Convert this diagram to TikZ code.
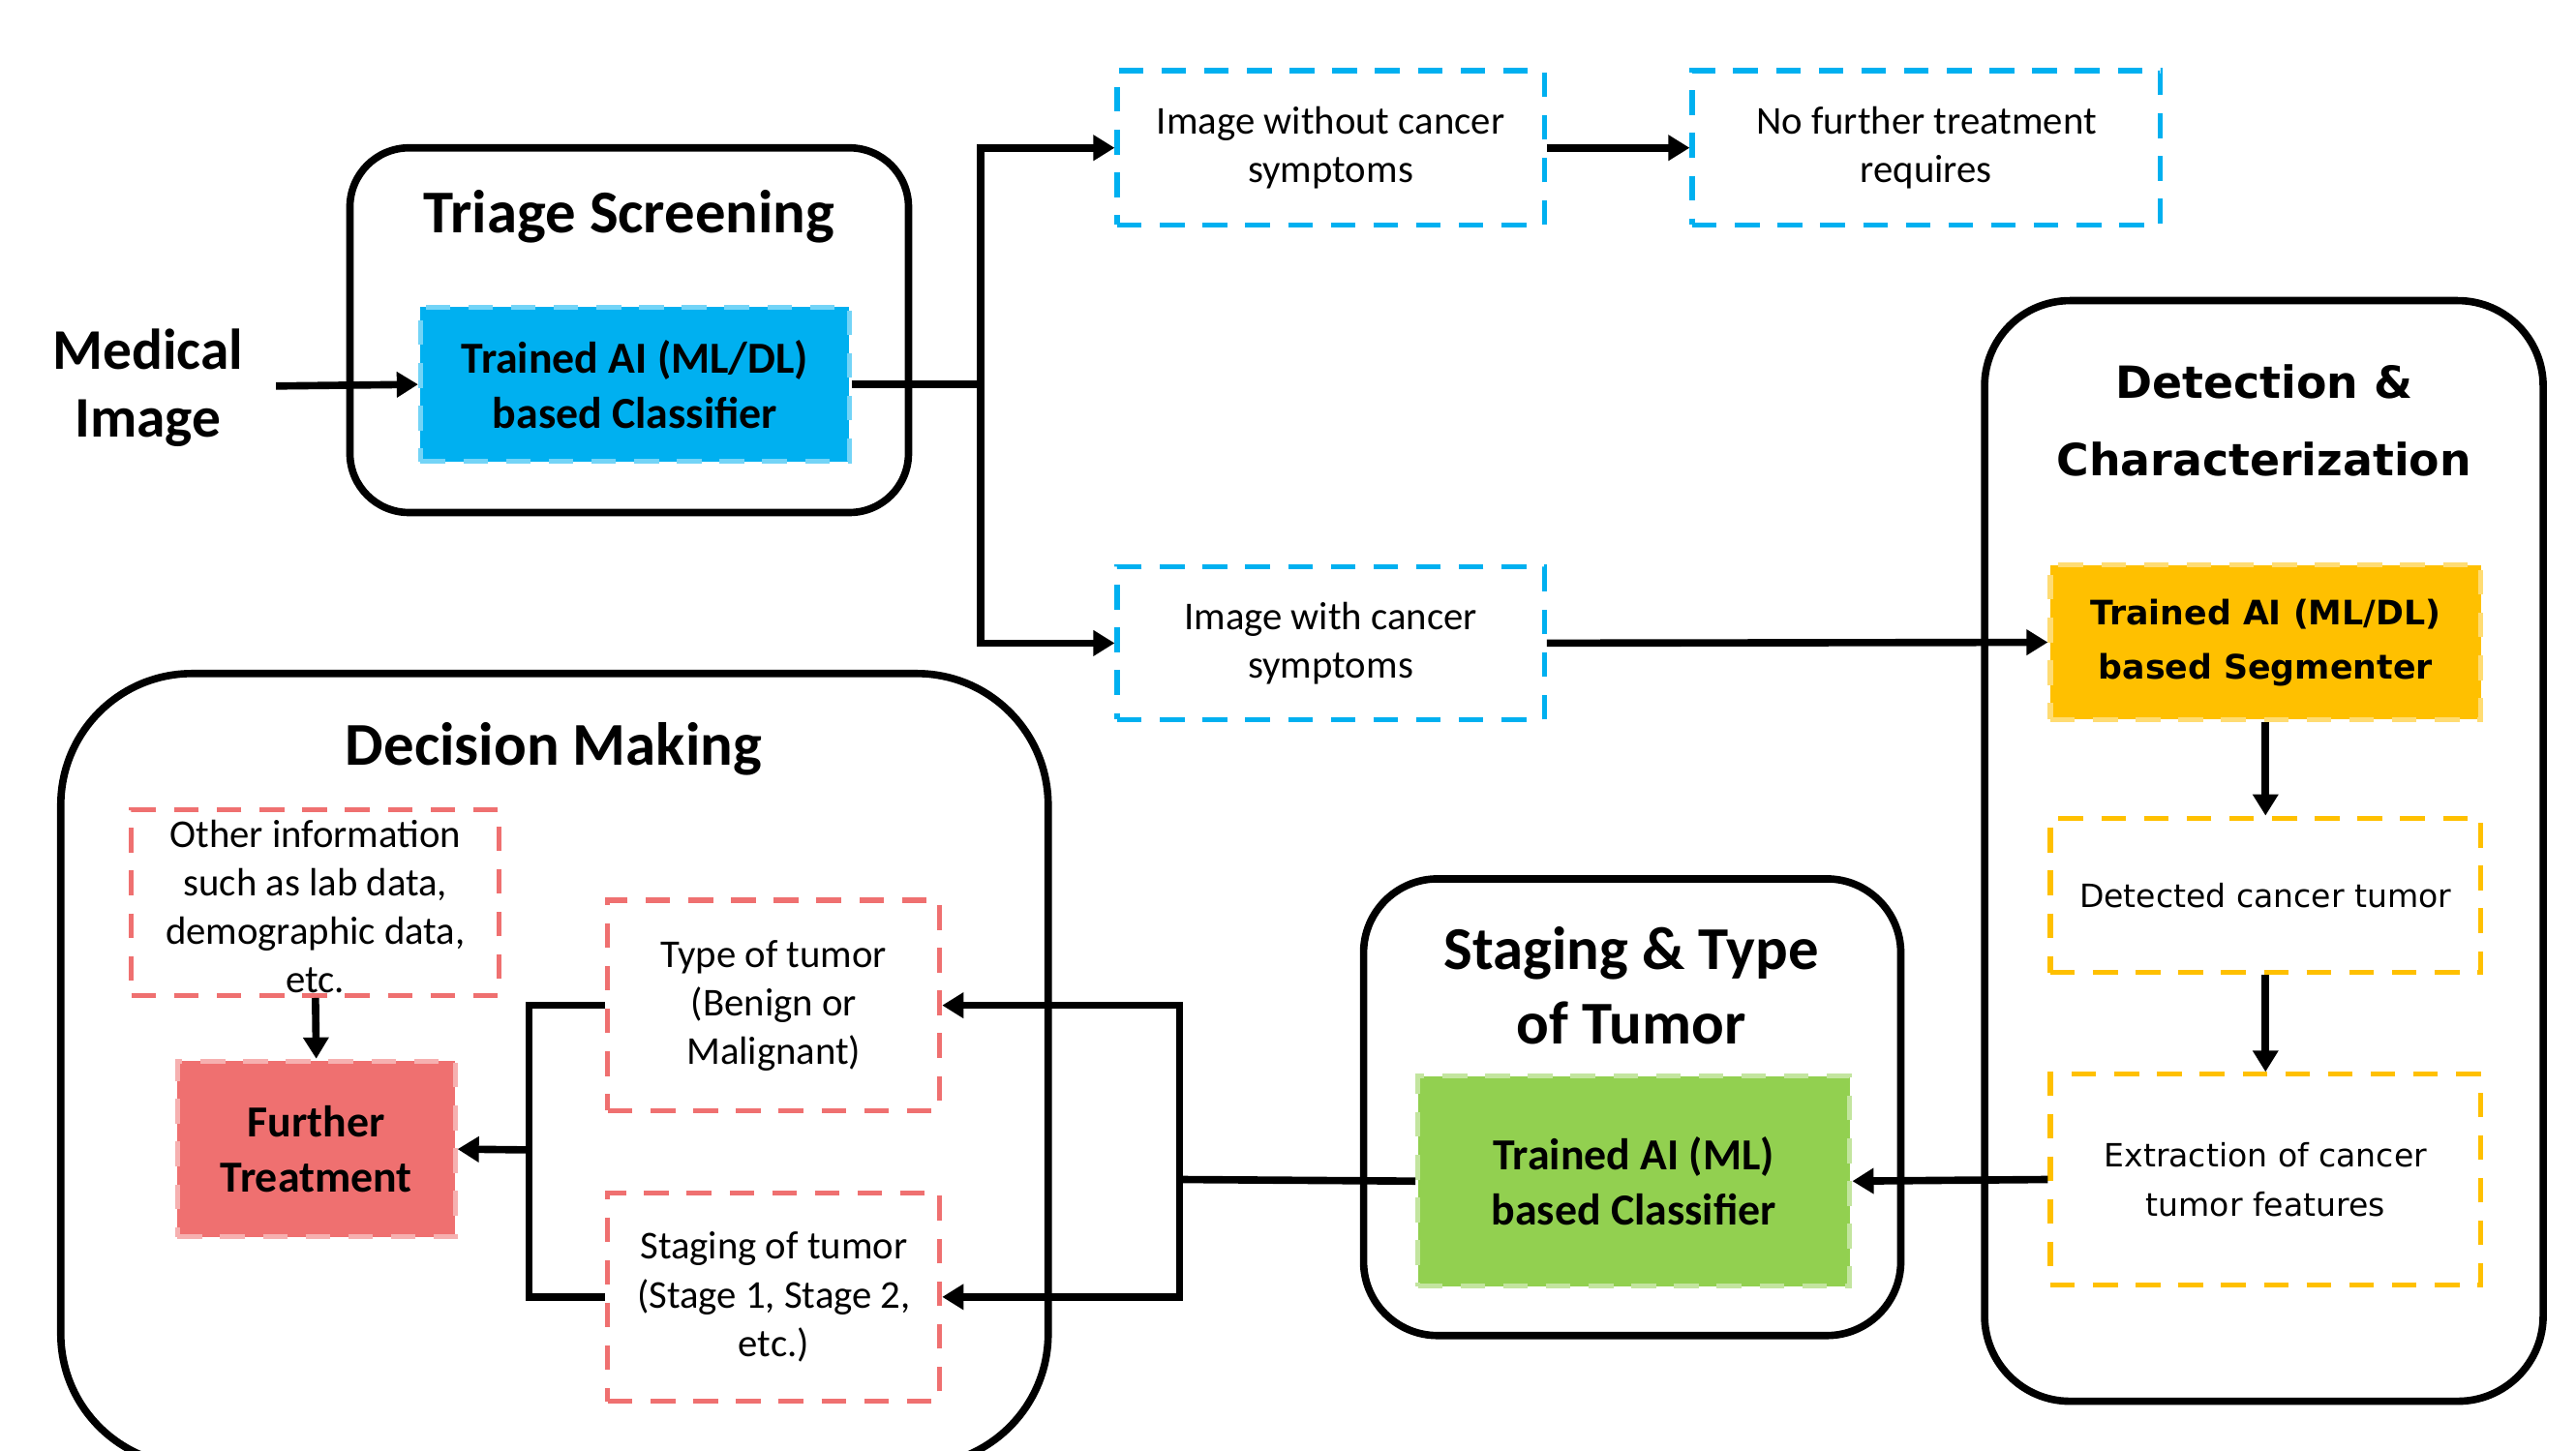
\documentclass[tikz,border=0pt]{standalone}
\usepackage{fontspec}
\setmainfont{Carlito}
\newfontfamily\dvfont{DejaVu Sans}
\usetikzlibrary{arrows.meta}
\definecolor{cblue}{HTML}{00B0F0}
\definecolor{corange}{HTML}{FFC000}
\definecolor{cgreen}{HTML}{92D050}
\definecolor{cred}{HTML}{EF7070}
\newcommand\ttlfont{\fontsize{37}{45}\selectfont\bfseries}
\newcommand\boxbold{\fontsize{27}{34}\selectfont\bfseries}
\newcommand\boxreg{\fontsize{24}{29.5}\selectfont}
\begin{document}
\begin{tikzpicture}[x=1pt,y=-1pt,
  frame/.style={draw=black,line width=4.5pt},
  dbox/.style={draw=#1,line width=3pt,dash pattern=on 15pt off 11pt,
    inner sep=0pt,align=center,fill=white},
  fbox/.style={fill=#1,draw=#1!55!white,line width=3pt,dash pattern=on 15pt off 11pt,
    inner sep=0pt,align=center},
  conn/.style={line width=4.5pt,draw=black},
  arr/.style={conn,-{Triangle[length=13pt,width=15pt]}},
  txt/.style={inner sep=0pt,align=center}]
\useasboundingbox (0,0) rectangle (1568,883);
\fill[white] (0,0) rectangle (1568,883);
\begin{scope}
\clip (0,0) rectangle (1568,883);
% frames
\draw[frame,rounded corners=36pt] (213,90) rectangle (553,312);
\draw[frame,rounded corners=52pt] (1208,183) rectangle (1548,853);
\draw[frame,rounded corners=45pt] (830,535) rectangle (1157,813);
\draw[frame,rounded corners=80pt] (37,410) rectangle (638,892);
\end{scope}
% titles
\node[txt,font=\ttlfont] (ttriage) at (383,132) {Triage Screening};
\node[txt,font=\fontsize{27}{47}\selectfont\dvfont\bfseries] (tdet) at (1378,256) {Detection \&\\Characterization};
\node[txt,font=\ttlfont] (tstage) at (993,600) {Staging \& Type\\of Tumor};
\node[txt,font=\ttlfont] (tdec) at (337,456) {Decision Making};
\node[txt,font=\fontsize{35}{41}\selectfont\bfseries] (med) at (90,236) {Medical\\Image};
% boxes
\node[fbox=cblue,minimum width=261pt,minimum height=94pt,font=\boxbold] (cls1) at (386.5,234) {Trained AI (ML/DL)\\based Classifier};
\node[dbox=cblue,minimum width=260pt,minimum height=94pt,font=\boxreg] (nocancer) at (810,90) {Image without cancer\\symptoms};
\node[dbox=cblue,minimum width=285pt,minimum height=94pt,font=\boxreg] (nofurther) at (1172.5,90) {No further treatment\\requires};
\node[dbox=cblue,minimum width=260pt,minimum height=93pt,font=\boxreg] (withcancer) at (810,391.5) {Image with cancer\\symptoms};
\node[fbox=corange,minimum width=262pt,minimum height=94pt,font=\fontsize{20.5}{33}\selectfont\dvfont\bfseries] (seg) at (1379,391) {Trained AI (ML/DL)\\based Segmenter};
\node[dbox=corange,minimum width=262pt,minimum height=94pt,font=\fontsize{19.5}{30}\selectfont\dvfont] (detected) at (1379,545) {Detected cancer tumor};
\node[dbox=corange,minimum width=262pt,minimum height=128pt,font=\fontsize{19.5}{30}\selectfont\dvfont] (extract) at (1379,718) {Extraction of cancer\\tumor features};
\node[fbox=cgreen,minimum width=263pt,minimum height=128pt,font=\boxbold] (cls2) at (994.5,719) {Trained AI (ML)\\based Classifier};
\node[dbox=cred,minimum width=224pt,minimum height=113pt] (other) at (192,549.5) {};
\node[txt,font=\boxreg] (othertxt) at (192,552) {Other information\\such as lab data,\\demographic data,\\etc.};
\node[fbox=cred,minimum width=169pt,minimum height=107pt,font=\boxbold] (further) at (192.5,699.5) {Further\\Treatment};
\node[dbox=cred,minimum width=202pt,minimum height=128pt,font=\boxreg] (typet) at (471,612) {Type of tumor\\(Benign or\\Malignant)};
\node[dbox=cred,minimum width=202pt,minimum height=127pt,font=\boxreg] (staget) at (471,789.5) {Staging of tumor\\(Stage 1, Stage 2,\\etc.)};
% connectors
\coordinate (split1) at (597,234);
\coordinate (split2) at (718,718);
\coordinate (join) at (322,700);
\coordinate (medout) at (168,235);
\draw[arr] (medout) -- (cls1.west);
\draw[conn] (cls1.east) -- (split1);
\draw[arr] (split1) |- (nocancer.west);
\draw[arr] (split1) |- (withcancer.west);
\draw[arr] (nocancer.east) -- (nofurther.west);
\draw[arr] (withcancer.east) -- (seg.west);
\draw[arr] (seg.south) -- (detected.north);
\draw[arr] (detected.south) -- (extract.north);
\draw[arr] (extract.west) -- (cls2.east);
\draw[conn] (cls2.west) -- (split2);
\draw[arr] (split2) |- (typet.east);
\draw[arr] (split2) |- (staget.east);
\draw[conn] (typet.west) -| (join) |- (staget.west);
\draw[arr] (join) -- (further.east);
\draw[arr] (other.south) -- (further.north);
\end{tikzpicture}
\end{document}
